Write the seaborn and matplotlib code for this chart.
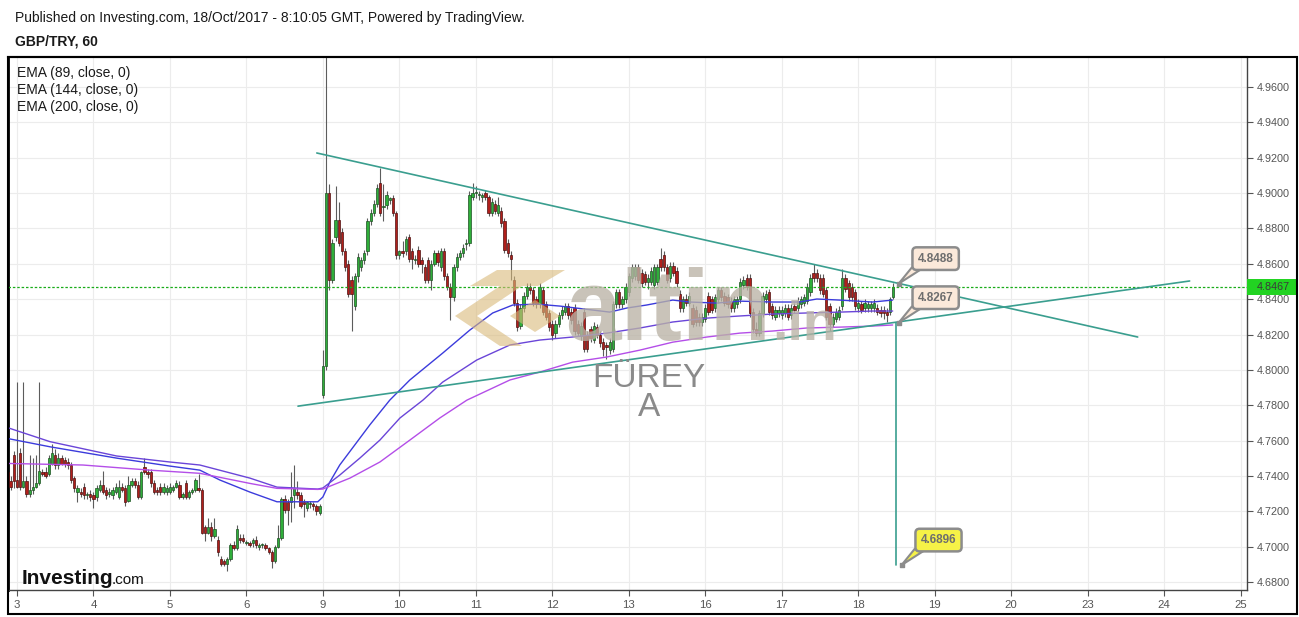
import numpy as np
import pandas as pd
import matplotlib
matplotlib.use("Agg")
import matplotlib.pyplot as plt
import matplotlib.transforms as mtransforms
import seaborn as sns
from matplotlib.patches import Rectangle, Polygon

sns.set_theme(style="white")
plt.rcParams["font.family"] = ["Liberation Sans", "DejaVu Sans"]

# ---------------------------------------------------------------
# hourly GBP/TRY candles, first bar = Oct 2 21:00
# ---------------------------------------------------------------
opens = [
    4.742, 4.737, 4.752,
    # Oct 3
    4.738, 4.753, 4.734, 4.737, 4.730, 4.732, 4.734, 4.736, 4.742, 4.742, 4.741, 4.747,
    4.752, 4.746, 4.750, 4.749, 4.748, 4.746, 4.739, 4.731, 4.731, 4.734, 4.729, 4.730,
    # Oct 4
    4.729, 4.728, 4.732, 4.735, 4.732, 4.730, 4.729, 4.731, 4.728, 4.734, 4.733, 4.726,
    4.735, 4.737, 4.735, 4.728, 4.745, 4.742, 4.742, 4.736, 4.732, 4.734, 4.731, 4.731,
    # Oct 5
    4.731, 4.732, 4.734, 4.735, 4.728, 4.736, 4.728, 4.731, 4.732, 4.733, 4.732, 4.711,
    4.708, 4.711, 4.706, 4.704, 4.693, 4.692, 4.690, 4.693, 4.701, 4.699, 4.705, 4.705,
    # Oct 6
    4.702, 4.702, 4.702, 4.704, 4.700, 4.701, 4.701, 4.699, 4.697, 4.692, 4.700, 4.705,
    4.727, 4.725, 4.725, 4.729, 4.731, 4.729, 4.725, 4.722, 4.724, 4.724, 4.723, 4.719,
    # Oct 9
    4.786, 4.802, 4.900, 4.851, 4.875, 4.885, 4.878, 4.867, 4.860, 4.851, 4.836, 4.853,
    4.858, 4.862, 4.867, 4.884, 4.889, 4.894, 4.906, 4.892, 4.893, 4.896, 4.897, 4.889,
    # Oct 10
    4.865, 4.867, 4.867, 4.875, 4.867, 4.862, 4.868, 4.862, 4.858, 4.862, 4.851, 4.860,
    4.866, 4.858, 4.867, 4.853, 4.847, 4.841, 4.858, 4.864, 4.866, 4.871, 4.872, 4.898,
    # Oct 11
    4.900, 4.899, 4.898, 4.900, 4.898, 4.889, 4.894, 4.889, 4.890, 4.884, 4.872, 4.865,
    4.851, 4.838, 4.825, 4.835, 4.842, 4.847, 4.845, 4.840, 4.837, 4.845, 4.837, 4.832, 4.826,
    # Oct 12
    4.821, 4.826, 4.831, 4.833, 4.836, 4.833, 4.835, 4.826, 4.819, 4.833, 4.820, 4.823,
    4.817, 4.824, 4.820, 4.816, 4.814, 4.811, 4.812, 4.837, 4.844, 4.837, 4.840, 4.844, 4.852,
    # Oct 13
    4.853, 4.858, 4.855, 4.854, 4.850, 4.850, 4.848, 4.850, 4.863, 4.865, 4.858, 4.852, 4.859,
    4.856, 4.843, 4.835, 4.840, 4.838, 4.835, 4.834, 4.830, 4.827, 4.829, 4.842, 4.840, 4.835,
    # Oct 16
    4.840, 4.845, 4.842, 4.841, 4.839, 4.835, 4.837, 4.840, 4.848, 4.852, 4.852, 4.833,
    4.823, 4.821, 4.832, 4.840, 4.844, 4.836, 4.830, 4.832, 4.831, 4.832, 4.835, 4.831, 4.836,
    # Oct 17
    4.835, 4.837, 4.838, 4.839, 4.844, 4.855, 4.855, 4.852, 4.852, 4.845, 4.836, 4.826,
    4.829, 4.830, 4.836, 4.852, 4.849, 4.847, 4.844, 4.835, 4.837, 4.835, 4.835, 4.835,
    # Oct 18
    4.835, 4.835, 4.834, 4.834, 4.833, 4.833, 4.841,
]
highs = [
    4.745, 4.740, 4.754,
    4.793, 4.756, 4.793, 4.740, 4.752, 4.750, 4.752, 4.793, 4.744, 4.745, 4.752, 4.758,
    4.755, 4.753, 4.752, 4.751, 4.750, 4.748, 4.740, 4.735, 4.733, 4.736, 4.731, 4.732,
    4.731, 4.735, 4.738, 4.743, 4.734, 4.733, 4.734, 4.736, 4.738, 4.736, 4.735, 4.740,
    4.739, 4.739, 4.737, 4.743, 4.750, 4.744, 4.744, 4.738, 4.734, 4.736, 4.736, 4.735,
    4.736, 4.735, 4.738, 4.737, 4.731, 4.738, 4.732, 4.733, 4.739, 4.741, 4.733, 4.712,
    4.716, 4.714, 4.716, 4.706, 4.695, 4.693, 4.694, 4.702, 4.703, 4.712, 4.707, 4.707,
    4.704, 4.703, 4.705, 4.706, 4.702, 4.702, 4.702, 4.700, 4.698, 4.701, 4.712, 4.728,
    4.729, 4.727, 4.742, 4.746, 4.737, 4.731, 4.727, 4.726, 4.726, 4.725, 4.724, 4.724,
    4.811, 4.990, 4.905, 4.874, 4.904, 4.895, 4.880, 4.869, 4.862, 4.853, 4.855, 4.866,
    4.864, 4.868, 4.886, 4.891, 4.896, 4.905, 4.914, 4.905, 4.901, 4.898, 4.899, 4.890,
    4.868, 4.873, 4.876, 4.877, 4.869, 4.865, 4.870, 4.864, 4.860, 4.864, 4.862, 4.868,
    4.868, 4.869, 4.869, 4.855, 4.849, 4.860, 4.866, 4.868, 4.871, 4.874, 4.901, 4.906,
    4.904, 4.901, 4.900, 4.902, 4.899, 4.897, 4.896, 4.898, 4.892, 4.886, 4.874, 4.867,
    4.853, 4.840, 4.837, 4.844, 4.849, 4.849, 4.847, 4.842, 4.849, 4.847, 4.839, 4.834, 4.828,
    4.828, 4.833, 4.836, 4.838, 4.838, 4.835, 4.837, 4.828, 4.827, 4.835, 4.822, 4.825,
    4.827, 4.826, 4.822, 4.818, 4.816, 4.818, 4.839, 4.846, 4.846, 4.842, 4.849, 4.855, 4.860,
    4.860, 4.860, 4.857, 4.856, 4.854, 4.858, 4.860, 4.860, 4.869, 4.867, 4.860, 4.861, 4.861,
    4.858, 4.845, 4.842, 4.843, 4.844, 4.837, 4.836, 4.832, 4.832, 4.837, 4.844, 4.842, 4.843,
    4.847, 4.847, 4.844, 4.843, 4.841, 4.842, 4.842, 4.852, 4.853, 4.854, 4.854, 4.835,
    4.827, 4.834, 4.844, 4.845, 4.846, 4.838, 4.836, 4.836, 4.836, 4.837, 4.837, 4.837, 4.838,
    4.841, 4.842, 4.843, 4.849, 4.854, 4.860, 4.857, 4.854, 4.854, 4.847, 4.838, 4.832,
    4.835, 4.836, 4.857, 4.854, 4.851, 4.849, 4.846, 4.840, 4.839, 4.840, 4.839, 4.839,
    4.840, 4.837, 4.836, 4.836, 4.835, 4.841, 4.849,
]
lows = [
    4.735, 4.732, 4.733,
    4.733, 4.732, 4.733, 4.728, 4.728, 4.730, 4.733, 4.735, 4.740, 4.739, 4.740, 4.746,
    4.744, 4.744, 4.746, 4.745, 4.744, 4.736, 4.731, 4.725, 4.728, 4.727, 4.727, 4.726,
    4.722, 4.726, 4.731, 4.730, 4.727, 4.728, 4.727, 4.730, 4.727, 4.731, 4.723, 4.725,
    4.734, 4.733, 4.727, 4.727, 4.741, 4.739, 4.734, 4.730, 4.729, 4.729, 4.730, 4.729,
    4.730, 4.731, 4.733, 4.727, 4.727, 4.727, 4.727, 4.730, 4.731, 4.731, 4.707, 4.703,
    4.707, 4.703, 4.705, 4.695, 4.689, 4.689, 4.686, 4.692, 4.698, 4.698, 4.702, 4.702,
    4.701, 4.700, 4.700, 4.699, 4.698, 4.699, 4.698, 4.696, 4.688, 4.691, 4.699, 4.704,
    4.719, 4.712, 4.714, 4.722, 4.727, 4.722, 4.717, 4.720, 4.722, 4.721, 4.718, 4.718,
    4.784, 4.800, 4.845, 4.849, 4.873, 4.870, 4.865, 4.856, 4.841, 4.822, 4.834, 4.850,
    4.856, 4.860, 4.865, 4.882, 4.887, 4.892, 4.887, 4.884, 4.891, 4.894, 4.887, 4.863,
    4.863, 4.864, 4.865, 4.861, 4.857, 4.860, 4.858, 4.855, 4.849, 4.849, 4.845, 4.859,
    4.859, 4.856, 4.851, 4.845, 4.828, 4.839, 4.856, 4.862, 4.864, 4.868, 4.870, 4.896,
    4.897, 4.896, 4.895, 4.896, 4.887, 4.887, 4.888, 4.887, 4.881, 4.866, 4.864, 4.851,
    4.836, 4.822, 4.823, 4.833, 4.840, 4.843, 4.836, 4.835, 4.835, 4.831, 4.828, 4.822, 4.817,
    4.818, 4.824, 4.829, 4.831, 4.829, 4.826, 4.820, 4.819, 4.817, 4.810, 4.810, 4.816,
    4.815, 4.818, 4.813, 4.808, 4.806, 4.809, 4.810, 4.835, 4.835, 4.835, 4.838, 4.842, 4.850,
    4.851, 4.849, 4.847, 4.848, 4.846, 4.848, 4.846, 4.848, 4.856, 4.856, 4.849, 4.850, 4.853,
    4.847, 4.833, 4.833, 4.836, 4.836, 4.824, 4.825, 4.825, 4.825, 4.827, 4.831, 4.832, 4.833,
    4.838, 4.839, 4.836, 4.835, 4.833, 4.833, 4.835, 4.838, 4.846, 4.845, 4.830, 4.821,
    4.819, 4.819, 4.830, 4.838, 4.831, 4.829, 4.828, 4.830, 4.829, 4.830, 4.828, 4.829, 4.832,
    4.833, 4.835, 4.836, 4.837, 4.842, 4.850, 4.850, 4.843, 4.841, 4.828, 4.822, 4.824,
    4.827, 4.828, 4.834, 4.844, 4.839, 4.839, 4.834, 4.833, 4.832, 4.833, 4.833, 4.833,
    4.833, 4.831, 4.830, 4.829, 4.827, 4.831, 4.840,
]
closes = [
    4.737, 4.734, 4.737,
    4.734, 4.734, 4.737, 4.730, 4.732, 4.734, 4.736, 4.743, 4.741, 4.740, 4.750, 4.753,
    4.746, 4.750, 4.747, 4.747, 4.746, 4.738, 4.733, 4.733, 4.730, 4.729, 4.730, 4.728,
    4.727, 4.733, 4.735, 4.731, 4.729, 4.731, 4.732, 4.734, 4.734, 4.732, 4.725, 4.735,
    4.737, 4.735, 4.728, 4.742, 4.742, 4.741, 4.736, 4.731, 4.731, 4.731, 4.734, 4.733,
    4.734, 4.734, 4.736, 4.728, 4.730, 4.728, 4.731, 4.732, 4.738, 4.732, 4.708, 4.708,
    4.711, 4.706, 4.710, 4.697, 4.690, 4.690, 4.693, 4.701, 4.699, 4.710, 4.704, 4.703,
    4.702, 4.701, 4.704, 4.701, 4.701, 4.701, 4.699, 4.697, 4.692, 4.700, 4.705, 4.727,
    4.721, 4.721, 4.728, 4.733, 4.729, 4.723, 4.724, 4.725, 4.724, 4.723, 4.720, 4.723,
    4.802, 4.900, 4.851, 4.872, 4.885, 4.872, 4.867, 4.858, 4.843, 4.843, 4.853, 4.864,
    4.862, 4.866, 4.884, 4.889, 4.894, 4.903, 4.889, 4.892, 4.899, 4.897, 4.889, 4.865,
    4.867, 4.866, 4.874, 4.863, 4.863, 4.863, 4.860, 4.860, 4.851, 4.851, 4.860, 4.866,
    4.861, 4.867, 4.853, 4.847, 4.841, 4.858, 4.864, 4.866, 4.869, 4.872, 4.899, 4.900,
    4.900, 4.899, 4.899, 4.898, 4.889, 4.895, 4.890, 4.893, 4.883, 4.868, 4.866, 4.863,
    4.838, 4.824, 4.835, 4.842, 4.847, 4.845, 4.838, 4.837, 4.847, 4.833, 4.830, 4.824, 4.820,
    4.826, 4.831, 4.834, 4.836, 4.831, 4.828, 4.822, 4.821, 4.825, 4.812, 4.812, 4.818,
    4.825, 4.820, 4.815, 4.812, 4.813, 4.816, 4.837, 4.844, 4.837, 4.840, 4.847, 4.853, 4.858,
    4.858, 4.851, 4.849, 4.850, 4.852, 4.856, 4.858, 4.858, 4.858, 4.858, 4.851, 4.859, 4.855,
    4.849, 4.835, 4.840, 4.838, 4.842, 4.826, 4.827, 4.827, 4.830, 4.835, 4.833, 4.834, 4.841,
    4.845, 4.841, 4.838, 4.837, 4.835, 4.840, 4.840, 4.850, 4.851, 4.847, 4.832, 4.823,
    4.821, 4.832, 4.842, 4.843, 4.833, 4.831, 4.834, 4.834, 4.834, 4.835, 4.830, 4.835, 4.834,
    4.839, 4.840, 4.841, 4.847, 4.852, 4.852, 4.852, 4.845, 4.843, 4.830, 4.826, 4.830,
    4.833, 4.834, 4.852, 4.846, 4.841, 4.841, 4.836, 4.838, 4.834, 4.838, 4.837, 4.837,
    4.838, 4.833, 4.832, 4.832, 4.831, 4.840, 4.8467,
]

# EMA curves (hour index, price)
ema89_t = [-3.2, 10.4, 31.3, 48.0, 57.4, 63.7, 73.1, 81.6, 94.4, 96.0, 98.2, 101.3, 106.0,
           110.7, 117.0, 123.3, 133.6, 142.1, 149.3, 155.6, 163.1, 170.4, 186.0, 191.4,
           197.6, 205.8, 211.1, 219.6, 226.8, 237.2, 245.6, 251.0, 258.2, 268.5, 274.8]
ema89_v = [4.7613, 4.7565, 4.7501, 4.7456, 4.7433, 4.7377, 4.7309, 4.7254, 4.7254, 4.7281,
           4.7366, 4.7462, 4.7575, 4.7688, 4.7829, 4.7943, 4.8095, 4.8225, 4.8322, 4.8367,
           4.8372, 4.8361, 4.8327, 4.8350, 4.8367, 4.8395, 4.8384, 4.8378, 4.8389, 4.8384,
           4.8384, 4.8401, 4.8395, 4.8384, 4.8395]
ema144_t = [-3.2, 10.4, 31.3, 48.0, 57.4, 73.1, 81.6, 94.4, 96.0, 101.3, 107.6, 113.9, 120.2,
            127.4, 133.6, 144.3, 154.7, 164.1, 174.4, 185.1, 195.5, 205.8, 216.5, 226.8,
            237.2, 247.8, 258.2, 268.5, 274.8]
ema144_v = [4.7675, 4.7594, 4.7513, 4.7479, 4.7462, 4.7388, 4.7337, 4.7326, 4.7332, 4.7405,
            4.7501, 4.7603, 4.7728, 4.7829, 4.7931, 4.8056, 4.8141, 4.8169, 4.8186, 4.8208,
            4.8237, 4.8271, 4.8293, 4.8305, 4.8316, 4.8322, 4.8327, 4.8333, 4.8333]
ema200_t = [-3.2, 20.7, 41.7, 57.4, 73.1, 81.6, 94.4, 96.0, 104.5, 113.9, 123.3, 132.7, 141.2,
            154.7, 164.1, 174.4, 185.1, 195.5, 205.8, 216.5, 226.8, 237.2, 247.8, 258.2,
            268.5, 274.8]
ema200_v = [4.7471, 4.7462, 4.7433, 4.7415, 4.7358, 4.7330, 4.7324, 4.7326, 4.7388, 4.7479,
            4.7603, 4.7728, 4.7829, 4.7943, 4.7988, 4.8044, 4.8073, 4.8112, 4.8157, 4.8186,
            4.8208, 4.8220, 4.8237, 4.8242, 4.8248, 4.8254]

# drawn trend lines and projection
upper_t, upper_v = [94.1, 351.7], [4.9227, 4.8186]
lower_t, lower_v = [88.2, 368.0], [4.7795, 4.8503]
target_t, target_v = [275.8, 275.8], [4.8267, 4.6896]
callout_t = [276.7, 276.7, 277.6]
callout_v = [4.8488, 4.8267, 4.6896]
callout_fill = ["#fbe9da", "#fbe9da", "#f6f247"]
last_price = 4.8467

day_labels = ["3", "4", "5", "6", "9", "10", "11", "12", "13", "16", "17", "18",
              "19", "20", "23", "24", "25"]
price_ticks = [4.68, 4.70, 4.72, 4.74, 4.76, 4.78, 4.80, 4.82, 4.84, 4.86, 4.88,
               4.90, 4.92, 4.94, 4.96]

df = pd.DataFrame({"o": opens, "h": highs, "l": lows, "c": closes})
df["t"] = np.arange(len(df)) - 3
up = df["c"] >= df["o"]
body_lo = df[["o", "c"]].min(axis=1)
body_h = (df["c"] - df["o"]).abs().clip(lower=0.0006)

W, H = 1299, 617
fig = plt.figure(figsize=(W / 100, H / 100), dpi=100)
ax = fig.add_axes([8 / W, 1 - 590 / H, (1247 - 8) / W, (590 - 57) / H])

GRID = "#ececec"
ax.set_xticks(np.arange(len(day_labels)) * 24)
ax.set_xticklabels(day_labels)
ax.set_yticks(price_ticks)
ax.set_yticklabels([f"{p:.4f}" for p in price_ticks])
ax.grid(True, color=GRID, lw=0.8)
ax.set_axisbelow(True)

# candles
ax.vlines(df["t"], df["l"], df["h"], color="#5c5c5c", lw=0.8, zorder=3)
ax.bar(df["t"][up], body_h[up], bottom=body_lo[up], width=0.72,
       color="#2fae3a", edgecolor="#1d4f22", lw=0.5, zorder=4)
ax.bar(df["t"][~up], body_h[~up], bottom=body_lo[~up], width=0.72,
       color="#b01f1b", edgecolor="#4e1010", lw=0.5, zorder=4)

# EMAs
for tt, vv, col in [(ema89_t, ema89_v, "#3b3bdc"),
                    (ema144_t, ema144_v, "#6a45d8"),
                    (ema200_t, ema200_v, "#b44ee8")]:
    sns.lineplot(x=tt, y=vv, ax=ax, color=col, lw=1.0, sort=False,
                 estimator=None, zorder=5)

TEAL = "#3a9e8f"
sns.lineplot(x=upper_t, y=upper_v, ax=ax, color=TEAL, lw=1.2, estimator=None, zorder=6)
sns.lineplot(x=lower_t, y=lower_v, ax=ax, color=TEAL, lw=1.2, estimator=None, zorder=6)
ax.plot(target_t, target_v, color=TEAL, lw=1.2, zorder=6)

ax.axhline(last_price, color="#1aac1a", lw=0.9, ls=(0, (2, 1.5)), zorder=5)

ax.set_xlim(-2.8, 386)
ax.set_ylim(4.6755, 4.977)
ax.set_xlabel("")
ax.set_ylabel("")

# callouts: speech bubble = tail polygon (pixel offsets from the level) + boxed text
tail_px = [(0, 0), (13, 16), (25, 16)]
for t0, v0, fc in zip(callout_t, callout_v, callout_fill):
    anchor = mtransforms.ScaledTranslation(t0, v0, ax.transData)
    ax.add_patch(Polygon(tail_px, closed=True, transform=mtransforms.IdentityTransform() + anchor,
                         fc=fc, ec="#8c8c8c", lw=1.5, joinstyle="miter", zorder=7,
                         clip_on=False))
    ax.annotate(f"{v0:.4f}", xy=(t0, v0), xytext=(26.6, 18), textcoords="offset points",
                ha="center", va="center", fontsize=8.5, fontweight="bold", color="#6e6e6e",
                bbox=dict(boxstyle="round,pad=0.45,rounding_size=0.35", fc=fc,
                          ec="#8c8c8c", lw=1.8),
                zorder=8)
ax.scatter(callout_t, callout_v, marker="s", s=9, color="#8c8c8c", zorder=9)

ax.yaxis.tick_right()
ax.tick_params(axis="y", which="both", right=True, left=False, length=4, width=0.8,
               color="#555555", labelsize=7.8, labelcolor="#555555", pad=3)
ax.tick_params(axis="x", which="both", bottom=True, length=4, width=0.8,
               color="#555555", labelsize=8.2, labelcolor="#555555", pad=3)
for side, col, lw in [("left", "black", 2.0), ("top", "black", 1.5),
                      ("right", "#444444", 1.0), ("bottom", "#444444", 1.0)]:
    ax.spines[side].set_visible(True)
    ax.spines[side].set_color(col)
    ax.spines[side].set_linewidth(lw)

# current price tag on the price axis
tag_tr = ax.get_yaxis_transform()
ax.add_patch(Rectangle((1.0, last_price - 0.0046), 0.0395, 0.0092, transform=tag_tr,
                       fc="#22d322", ec="none", clip_on=False, zorder=10))
ax.text(1.0075, last_price, f"{last_price:.4f}", transform=tag_tr, ha="left", va="center",
        fontsize=7.8, color="#3a3a3a", zorder=11, clip_on=False)

# outer frame of the widget
fig.add_artist(Rectangle((8 / W, 1 - 614 / H), (1297 - 8) / W, (614 - 57) / H,
                         transform=fig.transFigure, fill=False, ec="black", lw=1.5))

# watermark
gold = "#d9b97a"
for pts in [[(470, 286), (497, 270), (565, 270), (538, 286)],
            [(455, 316), (500, 286), (522, 286), (477, 316), (522, 346), (500, 346)],
            [(510, 316), (535, 300), (560, 316), (535, 332)]]:
    fig.add_artist(Polygon([(x / W, 1 - y / H) for x, y in pts], closed=True,
                           transform=fig.transFigure, fc=gold, ec="none", alpha=0.6,
                           zorder=2))
fig.text(565 / W, 1 - 340 / H, "altin", fontsize=72, fontweight="bold", color="#bab3a6",
         alpha=0.78, va="baseline", ha="left", zorder=2)
fig.text(772 / W, 1 - 340 / H, ".in", fontsize=40, fontweight="bold", color="#bab3a6",
         alpha=0.78, va="baseline", ha="left", zorder=2)
fig.text(649 / W, 1 - 387 / H, "FÜREY", fontsize=24, color="#8a8a8a",
         va="baseline", ha="center")
fig.text(649 / W, 1 - 416 / H, "A", fontsize=24, color="#8a8a8a",
         va="baseline", ha="center")

# header and legend text
fig.text(15 / W, 1 - 22 / H, "Published on Investing.com, 18/Oct/2017 - 8:10:05 GMT, "
         "Powered by TradingView.", fontsize=10, color="#1a1a1a", va="baseline")
fig.text(15 / W, 1 - 45 / H, "GBP/TRY, 60", fontsize=10, fontweight="bold",
         color="#1a1a1a", va="baseline")
for k, lbl in enumerate(["EMA (89, close, 0)", "EMA (144, close, 0)", "EMA (200, close, 0)"]):
    fig.text(17 / W, 1 - (77 + 17 * k) / H, lbl, fontsize=10, color="#1a1a1a",
             va="baseline")

fig.text(22 / W, 1 - 584 / H, "Investing", fontsize=15, fontweight="bold",
         color="#111111", va="baseline")
fig.text(112 / W, 1 - 584 / H, ".com", fontsize=11, color="#111111", va="baseline")

fig.savefig("out.png", dpi=100)
